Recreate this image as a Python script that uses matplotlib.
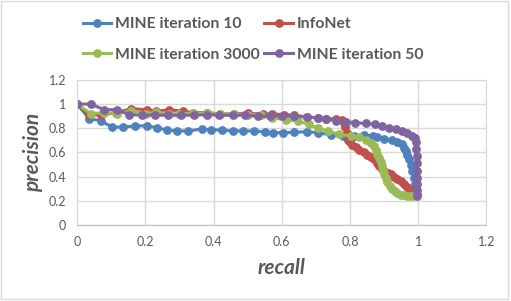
import matplotlib.pyplot as plt
from matplotlib.patches import Rectangle

# precision / recall points
r10 = [0, 0.035, 0.07, 0.102, 0.135, 0.17, 0.205, 0.234, 0.263, 0.292, 0.326, 0.365, 0.393, 0.425,
       0.456, 0.485, 0.518, 0.55, 0.573, 0.604, 0.637, 0.673, 0.705, 0.744, 0.778, 0.812, 0.841,
       0.866, 0.88, 0.9, 0.922, 0.939, 0.953, 0.958, 0.963, 0.968, 0.973, 0.978, 0.983, 0.987,
       0.99, 0.992, 0.994]
p10 = [1.0, 0.88, 0.862, 0.81, 0.81, 0.82, 0.82, 0.805, 0.786, 0.778, 0.778, 0.794, 0.786, 0.786,
       0.778, 0.778, 0.778, 0.77, 0.764, 0.764, 0.767, 0.772, 0.764, 0.745, 0.737, 0.737, 0.745,
       0.737, 0.726, 0.71, 0.699, 0.686, 0.669, 0.64, 0.61, 0.575, 0.542, 0.495, 0.447, 0.39,
       0.339, 0.29, 0.244]

r_info = [0, 0.035, 0.07, 0.115, 0.159, 0.204, 0.232, 0.27, 0.31, 0.341, 0.382, 0.42, 0.46, 0.5,
          0.545, 0.572, 0.605, 0.637, 0.673, 0.705, 0.73, 0.76, 0.775, 0.782, 0.786, 0.79, 0.793,
          0.8, 0.807, 0.817, 0.827, 0.84, 0.851, 0.861, 0.87, 0.878, 0.885, 0.893, 0.9, 0.91,
          0.919, 0.929, 0.939, 0.949, 0.958, 0.966, 0.973, 0.978, 0.983, 0.99]
p_info = [1.0, 0.91, 0.91, 0.93, 0.962, 0.954, 0.94, 0.954, 0.94, 0.93, 0.93, 0.917, 0.92, 0.925,
          0.915, 0.92, 0.912, 0.908, 0.894, 0.886, 0.88, 0.875, 0.87, 0.84, 0.813, 0.76, 0.705,
          0.685, 0.664, 0.645, 0.623, 0.603, 0.583, 0.562, 0.542, 0.515, 0.488, 0.467, 0.447,
          0.433, 0.42, 0.4, 0.38, 0.36, 0.339, 0.318, 0.298, 0.28, 0.263, 0.244]

r3000 = [0, 0.04, 0.08, 0.117, 0.159, 0.203, 0.232, 0.27, 0.3, 0.34, 0.38, 0.42, 0.46, 0.5, 0.54,
         0.572, 0.612, 0.646, 0.68, 0.705, 0.734, 0.768, 0.802, 0.827, 0.846, 0.861, 0.869, 0.875,
         0.88, 0.885, 0.89, 0.895, 0.898, 0.9, 0.905, 0.909, 0.916, 0.924, 0.931, 0.939, 0.948,
         0.958, 0.968, 0.978, 0.985]
p3000 = [1.0, 0.921, 0.93, 0.921, 0.945, 0.921, 0.934, 0.92, 0.92, 0.925, 0.925, 0.92, 0.92, 0.913,
         0.913, 0.886, 0.872, 0.859, 0.832, 0.8, 0.778, 0.75, 0.737, 0.726, 0.705, 0.677, 0.65,
         0.623, 0.59, 0.555, 0.52, 0.488, 0.455, 0.42, 0.385, 0.352, 0.325, 0.298, 0.28, 0.263,
         0.252, 0.244, 0.24, 0.236, 0.236]

r50 = [0, 0.04, 0.079, 0.118, 0.152, 0.191, 0.227, 0.266, 0.305, 0.342, 0.381, 0.417, 0.456, 0.492,
       0.529, 0.565, 0.6, 0.637, 0.673, 0.705, 0.729, 0.758, 0.788, 0.814, 0.848, 0.873, 0.895,
       0.914, 0.934, 0.951, 0.968, 0.981, 0.989, 0.993, 0.994, 0.995, 0.995, 0.995, 0.995, 0.995,
       0.995, 0.995, 0.995]
p50 = [1.0, 1.0, 0.954, 0.954, 0.913, 0.908, 0.908, 0.908, 0.908, 0.908, 0.913, 0.908, 0.908, 0.908,
       0.9, 0.9, 0.902, 0.9, 0.894, 0.886, 0.878, 0.862, 0.854, 0.846, 0.84, 0.832, 0.821, 0.805,
       0.791, 0.778, 0.759, 0.74, 0.718, 0.69, 0.63, 0.57, 0.51, 0.45, 0.39, 0.34, 0.29, 0.26, 0.236]

ticks = [0, 0.2, 0.4, 0.6, 0.8, 1, 1.2]
tick_labels = ['0', '0.2', '0.4', '0.6', '0.8', '1', '1.2']

plt.rcParams['font.family'] = ['Lato', 'DejaVu Sans']
gray = '#595959'

fig = plt.figure(figsize=(5.11, 3.01), dpi=100)
fig.patches.append(Rectangle((0.001, 0.005), 0.994, 0.992, transform=fig.transFigure,
                             fill=False, edgecolor='#D9D9D9', lw=1))
ax = fig.add_axes([0.151, 0.2525, 0.801, 0.482])

l1, = ax.plot(r10, p10, '-o', color='#4F81BD', lw=2.2, ms=5.3, label='MINE iteration 10')
l2, = ax.plot(r_info, p_info, '-o', color='#C0504D', lw=2.2, ms=5.3, label='InfoNet')
l3, = ax.plot(r3000, p3000, '-o', color='#9BBB59', lw=2.2, ms=5.3, label='MINE iteration 3000')
l4, = ax.plot(r50, p50, '-o', color='#8064A2', lw=2.2, ms=5.3, label='MINE iteration 50')

ax.set_xlim(0, 1.2)
ax.set_ylim(0, 1.2)
ax.set_xticks(ticks)
ax.set_xticklabels(tick_labels)
ax.set_yticks(ticks)
ax.set_yticklabels(tick_labels)
ax.grid(True, color='#D9D9D9', lw=1)
ax.set_axisbelow(True)
for s in ['top', 'right', 'left']:
    ax.spines[s].set_color('#D9D9D9')
ax.spines['bottom'].set_color('#BFBFBF')
ax.tick_params(length=0, labelsize=9, colors=gray, pad=8)

ax.set_xlabel('recall', fontsize=15, fontweight='bold', fontstyle='italic', color=gray, labelpad=7)
ax.set_ylabel('precision', fontsize=15, fontweight='bold', fontstyle='italic', color=gray, labelpad=4)

fig.legend(handles=[l1, l3, l2, l4], loc='upper left', bbox_to_anchor=(0.162, 0.942), ncol=2,
           frameon=False, prop={'size': 11.3, 'weight': 'bold'}, labelcolor=gray,
           handlelength=1.8, handletextpad=0.25, columnspacing=0.3, labelspacing=1.05,
           borderaxespad=0, borderpad=0)

fig.savefig('out.png', dpi=100)
